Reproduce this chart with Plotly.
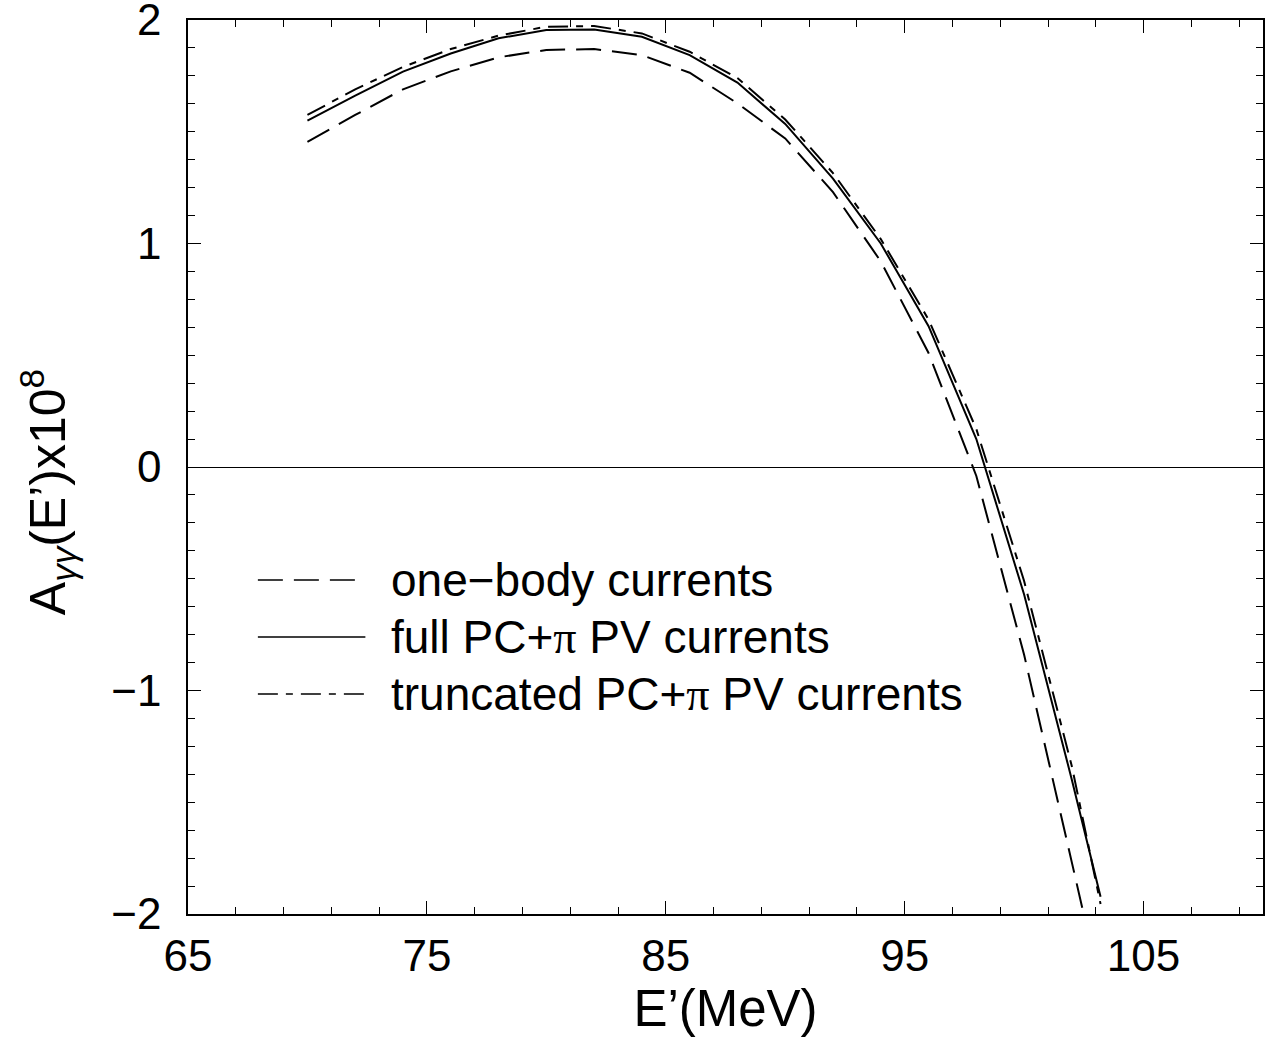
import plotly.graph_objects as go

# Photon energy E' (MeV)
energy = [70, 72, 74, 76, 78, 80, 82, 84, 86, 88, 90, 92, 94, 96, 98, 100, 102, 103.2]

# A_gamma-gamma(E') x 10^8
one_body = [1.455, 1.575, 1.69, 1.77, 1.833, 1.866, 1.87, 1.843, 1.764, 1.627,
            1.47, 1.23, 0.92, 0.51, -0.04, -0.84, -1.77, -2.33]
full_pc = [1.55, 1.662, 1.769, 1.85, 1.918, 1.955, 1.958, 1.925, 1.843, 1.72,
           1.535, 1.29, 1.00, 0.63, 0.125, -0.57, -1.40, -1.923]
truncated_pc = [1.575, 1.69, 1.79, 1.87, 1.93, 1.97, 1.973, 1.94, 1.858, 1.74,
                1.555, 1.315, 1.02, 0.66, 0.17, -0.51, -1.34, -1.955]

PI = '<span style="font-family:Liberation Serif, Times New Roman, serif">\u03c0</span>'
legend_labels = ["one\u2212body currents", "full PC+" + PI + " PV currents",
                 "truncated PC+" + PI + " PV currents"]

x_ticks = [65, 75, 85, 95, 105]
y_ticks = [-2, -1, 0, 1, 2]

FONT = "Liberation Sans, Arial, Helvetica, sans-serif"
dash_one = "25px,11px"
dash_trunc = "20px,8px,7px,8px"
styles = [dash_one, "solid", dash_trunc]

fig = go.Figure()
for ys, dash, name in zip([one_body, full_pc, truncated_pc], styles, legend_labels):
    fig.add_trace(go.Scatter(x=energy, y=ys, mode="lines", name=name,
                             line=dict(color="black", width=2, dash=dash),
                             showlegend=False))

# manual legend (long line samples like the original)
rows_y = [0.3736, 0.3098, 0.2461]
for yy, dash, name in zip(rows_y, styles, legend_labels):
    fig.add_shape(type="line", xref="paper", yref="paper", x0=0.065, x1=0.165,
                  y0=yy, y1=yy, line=dict(color="black", width=1.5, dash=dash))
    fig.add_annotation(xref="paper", yref="paper", x=0.187, y=yy, text=name,
                       showarrow=False, xanchor="left", yanchor="middle",
                       font=dict(family=FONT, size=46, color="black"))

# y-axis title
fig.add_annotation(xref="paper", yref="paper", x=-0.131, y=0.472,
                   text="A<sub><i>\u03b3\u03b3</i></sub>(E\u2019)x10<sup>8</sup>",
                   textangle=-90, showarrow=False, xanchor="center", yanchor="middle",
                   font=dict(family=FONT, size=50, color="black"))

axis_common = dict(showline=True, linecolor="black", linewidth=1.5, mirror="allticks",
                   ticks="inside", ticklen=13, tickwidth=1.2, tickcolor="black",
                   showgrid=False, ticklabeloverflow="allow", automargin=False,
                   tickfont=dict(family=FONT, size=44, color="black"))

fig.update_xaxes(range=[65, 110], tickvals=x_ticks, zeroline=False,
                 minor=dict(dtick=2, tick0=65, ticks="inside", ticklen=7,
                            tickwidth=1.2, tickcolor="black", showgrid=False),
                 title=dict(text="E\u2019(MeV)", font=dict(family=FONT, size=51, color="black"),
                            standoff=10),
                 ticklabelstandoff=2,
                 **axis_common)
fig.update_yaxes(range=[-2, 2], tickvals=y_ticks, zeroline=True, zerolinecolor="black",
                 zerolinewidth=1.2,
                 minor=dict(dtick=0.125, tick0=0, ticks="inside", ticklen=7,
                            tickwidth=1.2, tickcolor="black", showgrid=False),
                 ticklabelstandoff=16,
                 **axis_common)

fig.update_layout(width=1270, height=1046,
                  margin=dict(l=188, r=7, t=20, b=132, autoexpand=False),
                  plot_bgcolor="white", paper_bgcolor="white",
                  font=dict(family=FONT, color="black"))

fig.write_html("out.html", config={"displayModeBar": False},
               post_script="document.body.style.margin='0';")
